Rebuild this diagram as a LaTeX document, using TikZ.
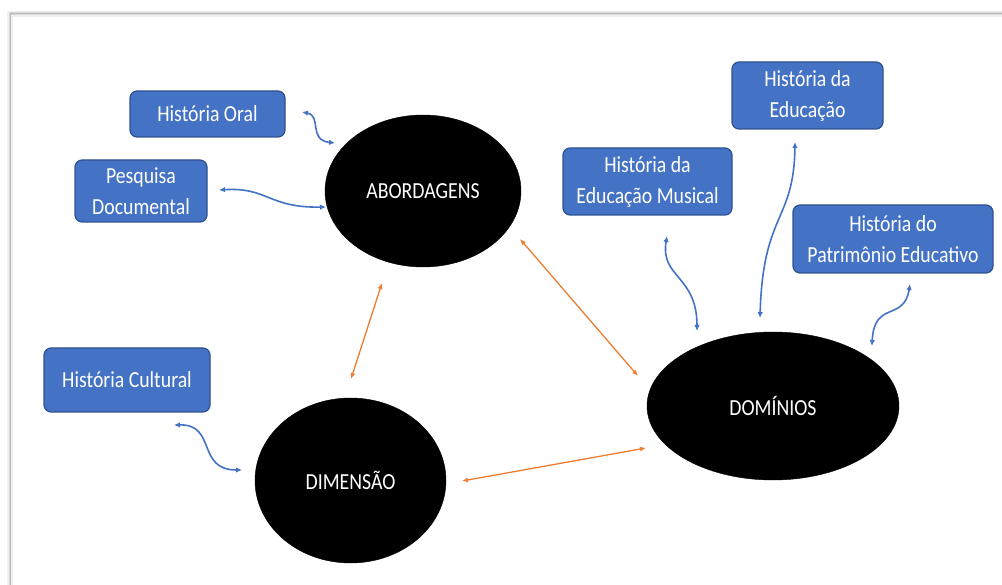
\documentclass[tikz,border=0pt]{standalone}
\usepackage{fontspec}
\setmainfont{Carlito}[FakeStretch=0.86]
\usetikzlibrary{arrows.meta,shapes.geometric}
\definecolor{boxblue}{HTML}{4472C4}
\definecolor{boxedge}{HTML}{2F528F}
\definecolor{arrowblue}{HTML}{4472C4}
\definecolor{arroworange}{HTML}{ED7D31}
\begin{document}
\begin{tikzpicture}[x=1pt,y=-1pt,
  topic/.style={draw=boxedge, line width=1.2pt, fill=boxblue, rounded corners=7pt,
    text=white, align=center, font=\fontsize{23}{31}\selectfont, inner sep=0pt},
  hub/.style={ellipse, fill=black, draw=black, text=white,
    font=\fontsize{23}{28}\selectfont, inner sep=0pt},
  link/.style={arrowblue, line width=1.6pt,
    {Latex[length=6pt,width=5.5pt]}-{Latex[length=6pt,width=5.5pt]}},
  rel/.style={arroworange, line width=1.3pt,
    {Latex[length=6pt,width=5pt]}-{Latex[length=6pt,width=5pt]}}]
\useasboundingbox (0,0) rectangle (1002,585);
\fill[white] (0,0) rectangle (1002,585);
% frame with shadow
\draw[gray!12, line width=6pt] (1002,14) -- (10,14) -- (10,585);
\draw[gray!30, line width=2.5pt] (1002,13.5) -- (10,13.5) -- (10,585);
\draw[gray!55, line width=0.8pt] (1002,13) -- (10,13) -- (10,585);

% topics
\node[topic, minimum width=155pt, minimum height=46pt] (oral) at (207.5,114) {História Oral};
\node[topic, minimum width=132pt, minimum height=62pt] (pesq) at (141,191) {Pesquisa\\Documental};
\node[topic, minimum width=169pt, minimum height=67pt] (musical) at (647.5,181.5) {História da\\Educação Musical};
\node[topic, minimum width=151pt, minimum height=67pt] (educ) at (807.5,95.5) {História da\\Educação};
\node[topic, minimum width=200pt, minimum height=68pt] (patr) at (893,239) {História do\\Patrimônio Educativo};
\node[topic, minimum width=166pt, minimum height=64pt] (cult) at (127,380) {História Cultural};

% hubs
\node[hub, minimum width=196pt, minimum height=152pt] (abord) at (423,191) {ABORDAGENS};
\node[hub, minimum width=252pt, minimum height=148pt] (dom) at (773,406) {DOMÍNIOS};
\node[hub, minimum width=191pt, minimum height=165pt] (dim) at (350.5,480.5) {DIMENSÃO};

% connector ends
\coordinate (oralE) at (302,112);   \coordinate (abordO) at (335,143);
\coordinate (pesqE) at (219,190);   \coordinate (abordP) at (326,207);
\coordinate (musE) at (667,236);    \coordinate (domM) at (697,331);
\coordinate (educE) at (795,142);   \coordinate (domE) at (760,318);
\coordinate (patrE) at (910,284);   \coordinate (domP) at (872,346);
\coordinate (cultE) at (174,425);   \coordinate (dimC) at (242,470);
\coordinate (abordD) at (382,283);  \coordinate (dimA) at (351,379);
\coordinate (abordR) at (520,239);  \coordinate (domA) at (638,376);
\coordinate (dimR) at (462,481);    \coordinate (domD) at (646,448);

% blue links
\draw[link] (oralE) .. controls (322,116) and (308,140) .. (abordO);
\draw[link] (pesqE) .. controls (268,187) and (268,208) .. (abordP);
\draw[link] (musE) .. controls (660,278) and (697,275) .. (domM);
\draw[link] (educE) .. controls (794,222) and (763,212) .. (domE);
\draw[link] (patrE) .. controls (904,322) and (874,300) .. (domP);
\draw[link] (cultE) .. controls (217,424) and (196,470) .. (dimC);

% orange relations
\draw[rel] (abordD) -- (dimA);
\draw[rel] (abordR) -- (domA);
\draw[rel] (dimR) -- (domD);
\end{tikzpicture}
\end{document}
